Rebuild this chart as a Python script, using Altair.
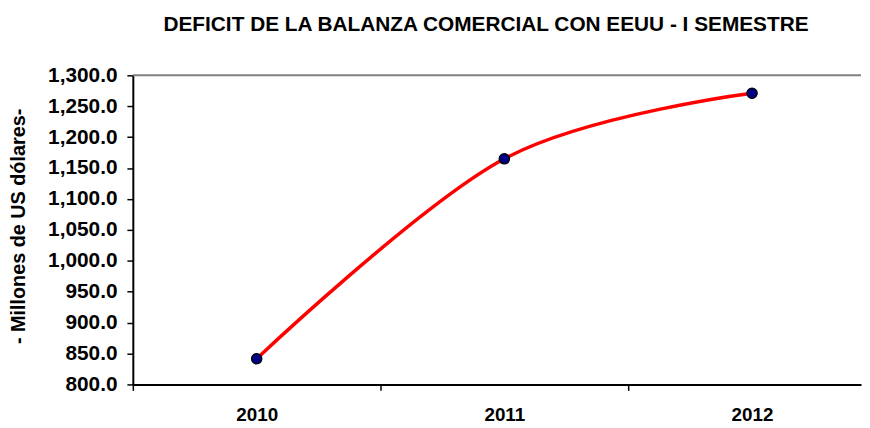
import altair as alt
import pandas as pd

years = [2010, 2011, 2012]
values = [841.5, 1165.0, 1271.0]
y_ticks = [800, 850, 900, 950, 1000, 1050, 1100, 1150, 1200, 1250, 1300]
x_axis_values = [2009.5, 2010, 2010.5, 2011, 2011.5, 2012]
top_line_value = [1300]

df = pd.DataFrame({"year": years, "value": values})
df_top = pd.DataFrame({"value": top_line_value})

FONT = "Liberation Sans"

x_axis = alt.Axis(
    title=None,
    values=x_axis_values,
    labelExpr="datum.value % 1 === 0 ? datum.value : ''",
    tickOpacity={"condition": {"test": "datum.value % 1 === 0", "value": 0}, "value": 1},
    tickSize=6,
    tickWidth=1.5,
    tickColor="black",
    domainColor="black",
    domainWidth=2,
    labelFont=FONT,
    labelFontSize=19,
    labelFontWeight="bold",
    labelColor="black",
    labelPadding=15,
    labelOverlap=False,
    grid=False,
)

y_axis = alt.Axis(
    title="- Millones de US dólares-",
    values=y_ticks,
    format=",.1f",
    tickSize=6,
    tickWidth=1.5,
    tickColor="black",
    domainColor="black",
    domainWidth=2,
    labelFont=FONT,
    labelFontSize=21,
    labelFontWeight="bold",
    labelColor="black",
    labelPadding=10,
    labelOverlap=False,
    titleFont=FONT,
    titleFontSize=20,
    titleFontWeight="bold",
    titleColor="black",
    titlePadding=19,
    titleY=152,
    grid=False,
)

x_scale = alt.Scale(domain=[2009.5, 2012.44], nice=False, zero=False)
y_scale = alt.Scale(domain=[800, 1300], nice=False, zero=False)

line = alt.Chart(df).mark_line(
    color="#FF0000", strokeWidth=3.5, interpolate="cardinal"
).encode(
    x=alt.X("year:Q", scale=x_scale, axis=x_axis),
    y=alt.Y("value:Q", scale=y_scale, axis=y_axis),
)

points = alt.Chart(df).mark_point(
    filled=True, fill="#000080", stroke="black", strokeWidth=1.2, size=110, opacity=1
).encode(
    x=alt.X("year:Q", scale=x_scale, axis=x_axis),
    y=alt.Y("value:Q", scale=y_scale, axis=y_axis),
)

top_rule = alt.Chart(df_top).mark_rule(color="#808080", strokeWidth=2).encode(
    y=alt.Y("value:Q", scale=y_scale, axis=y_axis),
)

chart = (
    alt.layer(line, points, top_rule)
    .properties(
        width=735,
        height=312,
        padding={"left": 0, "top": 4, "right": 0, "bottom": 0},
        title=alt.TitleParams(
            "DEFICIT DE LA BALANZA COMERCIAL CON EEUU - I SEMESTRE",
            font=FONT,
            fontSize=21,
            fontWeight="bold",
            color="black",
            anchor="middle",
            dx=-11,
            offset=30,
        ),
    )
    .configure_view(stroke=None)
)

chart.save("out.html", embed_options={"renderer": "svg", "actions": False})
